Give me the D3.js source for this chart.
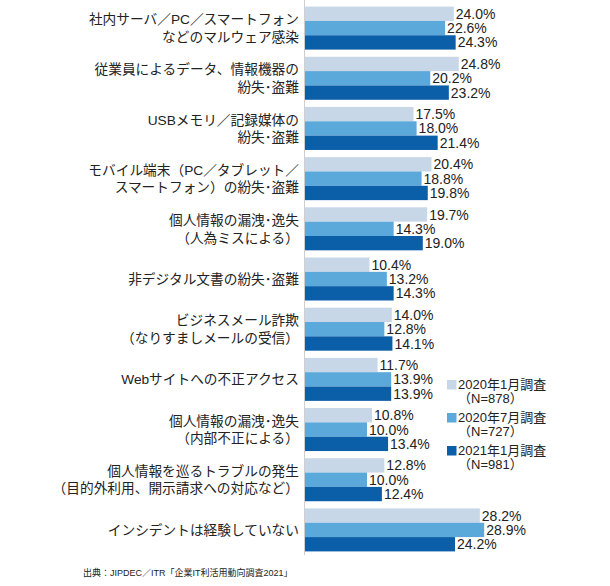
<!DOCTYPE html>
<html><head><meta charset="utf-8">
<script src="https://cdn.jsdelivr.net/npm/d3@7/dist/d3.min.js"></script>
<style>
html,body{margin:0;padding:0;background:#fff;}
svg{display:block;font-family:"Liberation Sans",Arial,"Noto Sans CJK JP",sans-serif;}
</style></head>
<body><svg id="c" width="610" height="586"></svg>
<script>
const categories = [
  ["社内サーバ／PC／スマートフォン","などのマルウェア感染"],
  ["従業員によるデータ、情報機器の","紛失･盗難"],
  ["USBメモリ／記録媒体の","紛失･盗難"],
  ["モバイル端末（PC／タブレット／","スマートフォン）の紛失･盗難"],
  ["個人情報の漏洩･逸失","（人為ミスによる）"],
  ["非デジタル文書の紛失･盗難"],
  ["ビジネスメール詐欺","（なりすましメールの受信）"],
  ["Webサイトへの不正アクセス"],
  ["個人情報の漏洩･逸失","（内部不正による）"],
  ["個人情報を巡るトラブルの発生","（目的外利用、開示請求への対応など）"],
  ["インシデントは経験していない"]
];
const seriesNames = ["2020年1月調査","2020年7月調査","2021年1月調査"];
const seriesN = ["（N=878）","（N=727）","（N=981）"];
const jan2020 = [24.0,24.8,17.5,20.4,19.7,10.4,14.0,11.7,10.8,12.8,28.2];
const jul2020 = [22.6,20.2,18.0,18.8,14.3,13.2,12.8,13.9,10.0,10.0,28.9];
const jan2021 = [24.3,23.2,21.4,19.8,19.0,14.3,14.1,13.9,13.4,12.4,24.2];
const sourceText = "出典：JIPDEC／ITR「企業IT利活用動向調査2021」";

const colors = ["#c7d7e8","#5ba8da","#0b5ea8"];
const seriesVals = [jan2020, jul2020, jan2021];

const svg = d3.select("#c");
const idx = d3.range(categories.length);

const x = d3.scaleLinear().domain([0,30]).range([305, 491]);
const y = d3.scaleBand().domain(idx).range([3,555]).paddingInner(0.143).paddingOuter(0.0715);
const ys = d3.scaleBand().domain([0,1,2]).range([0, y.bandwidth()]);

// axis line
svg.append("line").attr("x1",x(0)-0.5).attr("x2",x(0)-0.5).attr("y1",0).attr("y2",555)
  .attr("stroke","#cfcfcf").attr("stroke-width",1);

const g = svg.selectAll("g.grp").data(idx).enter().append("g")
  .attr("transform", i => `translate(0,${y(i)})`);

seriesVals.forEach((vals, s) => {
  g.append("rect")
    .attr("x", x(0))
    .attr("y", ys(s))
    .attr("width", i => x(vals[i]) - x(0))
    .attr("height", ys.bandwidth())
    .attr("fill", colors[s]);
  g.append("text")
    .attr("x", i => x(vals[i]) + 2)
    .attr("y", ys(s) + ys.bandwidth()/2)
    .attr("dy","0.36em")
    .attr("font-size","14px")
    .attr("fill","#222")
    .text(i => vals[i].toFixed(1) + "%");
});

// category labels
g.each(function(i){
  const lines = categories[i];
  const lh = 17.6;
  const cy = y.bandwidth()/2;
  const t = d3.select(this).append("text")
    .attr("text-anchor","end")
    .attr("font-size","13.7px")
    .attr("fill","#222");
  lines.forEach((ln, k) => {
    t.append("tspan").attr("x", 299)
      .attr("y", cy + (k - (lines.length-1)/2) * lh)
      .attr("dy","0.36em")
      .text(ln);
  });
});

// legend
const leg = svg.append("g").attr("transform","translate(447,380)");
seriesNames.forEach((nm, s) => {
  const lg = leg.append("g").attr("transform", `translate(0,${s*33})`);
  lg.append("rect").attr("x",0).attr("y",0).attr("width",9.5).attr("height",9.5).attr("fill",colors[s]);
  lg.append("text").attr("x",11).attr("y",4).attr("dy","0.36em").attr("font-size","13px").attr("fill","#222").text(nm);
  lg.append("text").attr("x",11).attr("y",18.4).attr("dy","0.36em").attr("font-size","13px").attr("fill","#222").text(seriesN[s]);
});

// source
svg.append("text").attr("x",83).attr("y",573).attr("dy","0.36em")
  .attr("font-size","9px").attr("fill","#222").text(sourceText);
</script>
</body></html>
